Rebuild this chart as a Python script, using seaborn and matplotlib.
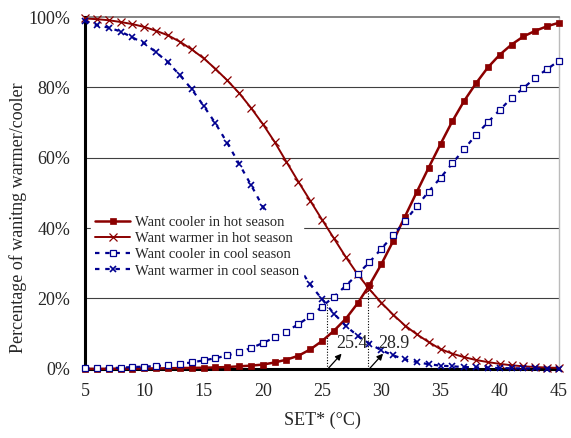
import matplotlib
matplotlib.use('Agg')
import matplotlib.pyplot as plt
import seaborn as sns
import pandas as pd

# SET* 5..45 (°C), values in %
set_temp = list(range(5, 46))

cooler_hot = [0.0, 0.0, 0.0, 0.05, 0.05, 0.1, 0.1, 0.15, 0.2, 0.25,
              0.3, 0.4, 0.5, 0.7, 0.9, 1.2, 1.8, 2.6, 3.7, 5.5,
              7.9, 10.8, 14.2, 18.6, 23.8, 29.7, 36.3, 43.3, 50.3, 57.2,
              63.9, 70.4, 76.2, 81.2, 85.7, 89.3, 92.2, 94.5, 96.1, 97.4, 98.4]
warmer_hot = [99.6, 99.4, 99.1, 98.6, 98.0, 97.2, 96.1, 94.8, 93.0, 90.8,
              88.3, 85.3, 82.0, 78.4, 74.2, 69.6, 64.5, 58.8, 53.2, 47.8,
              42.4, 37.1, 31.8, 26.9, 22.6, 18.8, 15.4, 12.3, 9.8, 7.6,
              5.6, 4.3, 3.3, 2.5, 1.9, 1.4, 1.0, 0.7, 0.5, 0.35, 0.25]
cooler_cool = [0.1, 0.2, 0.2, 0.3, 0.5, 0.6, 0.8, 1.0, 1.4, 1.8,
               2.4, 3.0, 3.8, 4.7, 5.9, 7.3, 8.9, 10.6, 12.7, 14.9,
               17.7, 20.5, 23.6, 26.9, 30.3, 34.1, 37.9, 42.0, 46.2, 50.4,
               54.3, 58.4, 62.5, 66.5, 70.1, 73.6, 77.0, 79.8, 82.8, 85.2, 87.6]
warmer_cool = [98.9, 97.7, 97.0, 95.9, 94.2, 92.5, 90.0, 87.1, 83.5, 79.5,
               74.8, 69.8, 64.2, 58.3, 52.3, 46.1, 40.0, 34.3, 29.0, 24.0,
               19.8, 15.7, 12.2, 9.4, 7.1, 5.3, 3.8, 2.7, 1.9, 1.3,
               0.9, 0.7, 0.5, 0.4, 0.3, 0.2, 0.15, 0.1, 0.1, 0.05, 0.05]

# neutral points (crossings)
cross_x = [25.4, 28.9]
cross_y = [19.0, 23.6]
cross_labels = ['25.4', '28.9']

xticks = [5, 10, 15, 20, 25, 30, 35, 40, 45]
yticks = [0, 20, 40, 60, 80, 100]
ytick_labels = ['0%', '20%', '40%', '60%', '80%', '100%']

df = pd.DataFrame({'SET': set_temp,
                   'cooler_hot': cooler_hot, 'warmer_hot': warmer_hot,
                   'cooler_cool': cooler_cool, 'warmer_cool': warmer_cool})

sns.set_style('white')
plt.rcParams['font.family'] = ['Liberation Serif', 'DejaVu Serif']

red = '#8B0000'
blue = '#000090'
dash = (0, (2.0, 2.6))

fig = plt.figure(figsize=(5.71, 4.38), dpi=100)
ax = fig.add_axes([0.149, 0.158, 0.830, 0.803])

# grid lines
for yv in yticks[1:-1]:
    ax.axhline(yv, color='#404040', lw=0.8, zorder=1)

sns.lineplot(data=df, x='SET', y='cooler_hot', ax=ax, color=red, lw=1.8,
             marker='s', markersize=4.2, markeredgecolor=red, markeredgewidth=0.5,
             label='Want cooler in hot season', clip_on=False, zorder=5)
sns.lineplot(data=df, x='SET', y='warmer_hot', ax=ax, color=red, lw=1.4,
             marker='x', markersize=5.5, markeredgewidth=0.9, markeredgecolor=red,
             label='Want warmer in hot season', clip_on=False, zorder=5)
sns.lineplot(data=df, x='SET', y='cooler_cool', ax=ax, color=blue, lw=1.6,
             linestyle=dash, marker='s', markersize=4.2,
             markerfacecolor='white', markeredgecolor=blue, markeredgewidth=0.9,
             label='Want cooler in cool season', clip_on=False, zorder=5)
sns.lineplot(data=df, x='SET', y='warmer_cool', ax=ax, color=blue, lw=1.6,
             linestyle=dash, marker='x', markersize=5.0,
             markeredgewidth=1.2, markeredgecolor=blue,
             label='Want warmer in cool season', clip_on=False, zorder=5)

# dotted drop lines, arrows and labels
for cx, cy, lab in zip(cross_x, cross_y, cross_labels):
    ax.vlines(cx, 0, cy, colors='black', linestyles=(0, (1, 1.5)), lw=0.8, zorder=3)
    ax.annotate('', xy=(cx + 1.25, 4.3), xytext=(cx + 0.15, 0.2),
                arrowprops=dict(arrowstyle='-|>', color='black', lw=0.9,
                                mutation_scale=9, shrinkA=0, shrinkB=0), zorder=6)
    ax.text(cx + 2.15, 7.3, lab, fontsize=13, ha='center', va='center', zorder=6)

ax.set_xlim(5, 45)
ax.set_ylim(0, 100)
ax.set_xticks(xticks)
ax.set_yticks(yticks)
ax.set_yticklabels(ytick_labels)
ax.tick_params(axis='both', direction='inout', length=9, width=1.8,
               color='black', labelsize=13, pad=6)
ax.set_xlabel('SET* (°C)', fontsize=13, labelpad=8)
ax.set_ylabel('Percentage of wanitng warmer/cooler', fontsize=13)
ax.yaxis.set_label_coords(-0.122, 0.43)

for side in ['left', 'bottom']:
    ax.spines[side].set_color('black')
    ax.spines[side].set_linewidth(2.2)
    ax.spines[side].set_zorder(4)
ax.spines['top'].set_color('#707070')
ax.spines['top'].set_linewidth(1.2)
ax.spines['right'].set_color('#bbbbbb')
ax.spines['right'].set_linewidth(1.0)

leg = ax.legend(loc='upper left', bbox_to_anchor=(0.012, 0.447),
                borderaxespad=0, fontsize=10.5, frameon=True, fancybox=False,
                edgecolor='white', framealpha=1, handlelength=2.4,
                handletextpad=0.3, labelspacing=0.2, borderpad=0.3)
leg.set_zorder(7)

fig.savefig('out.png', dpi=100)
